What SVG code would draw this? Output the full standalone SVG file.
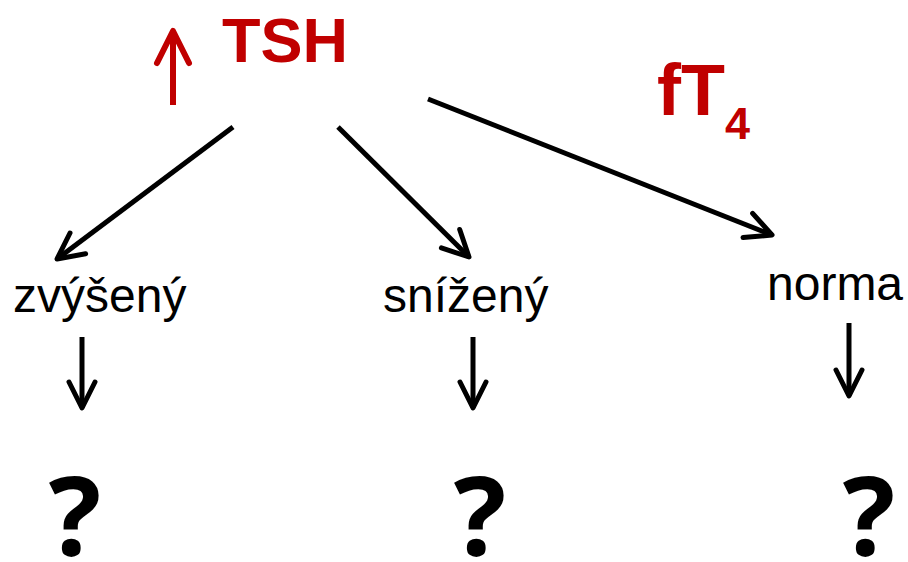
<svg xmlns="http://www.w3.org/2000/svg" width="908" height="562" viewBox="0 0 908 562">
<style>
.red{fill:#C00000;font-family:"Liberation Sans",Arial,sans-serif;font-weight:bold}
.lbl{fill:#000;font-family:"Liberation Sans",Arial,sans-serif;font-size:48px}
.q{fill:#000;font-family:"Open Sans","Noto Sans",sans-serif;font-weight:bold;font-size:110px;text-anchor:middle}
.con{stroke:#000;stroke-width:5;fill:none;marker-end:url(#ah)}
</style>
<defs>
<marker id="ah" markerUnits="userSpaceOnUse" markerWidth="60" markerHeight="60" viewBox="-40 -30 60 60" refX="0" refY="0" orient="auto">
<path d="M-26,-13 L0,0 L-26,13" fill="none" stroke="#000" stroke-width="5" stroke-linecap="round" stroke-linejoin="round"/>
</marker>
<marker id="ahr" markerUnits="userSpaceOnUse" markerWidth="60" markerHeight="60" viewBox="-40 -30 60 60" refX="0" refY="0" orient="auto">
<path d="M-32,-16 L0,0 L-32,16" fill="none" stroke="#C00000" stroke-width="6" stroke-linecap="round" stroke-linejoin="round"/>
</marker>
</defs>
<g id="tsh">
<line x1="173" y1="105" x2="173" y2="31" stroke="#C00000" stroke-width="6" marker-end="url(#ahr)"/>
<text class="red" x="222" y="62" font-size="63">TSH</text>
</g>
<g id="ft4">
<text class="red" x="657" y="115" font-size="72">fT<tspan font-size="45" dy="24">4</tspan></text>
</g>
<g id="zvyseny"><text class="lbl" x="13" y="312">zvýšený</text></g>
<g id="snizeny"><text class="lbl" x="383" y="312">snížený</text></g>
<g id="norma"><text class="lbl" x="767" y="300" font-size="47">norma</text></g>
<g id="q1"><text class="q" x="75" y="556">?</text></g>
<g id="q2"><text class="q" x="480" y="556">?</text></g>
<g id="q3"><text class="q" x="869" y="556">?</text></g>
<g id="connectors">
<line class="con" x1="233" y1="127" x2="57" y2="259"/>
<line class="con" x1="338" y1="127" x2="469" y2="257"/>
<line class="con" x1="428" y1="99" x2="772" y2="235"/>
<line class="con" x1="82" y1="337" x2="82" y2="408"/>
<line class="con" x1="473" y1="337" x2="473" y2="408"/>
<line class="con" x1="849" y1="323" x2="849" y2="396"/>
</g>
</svg>
